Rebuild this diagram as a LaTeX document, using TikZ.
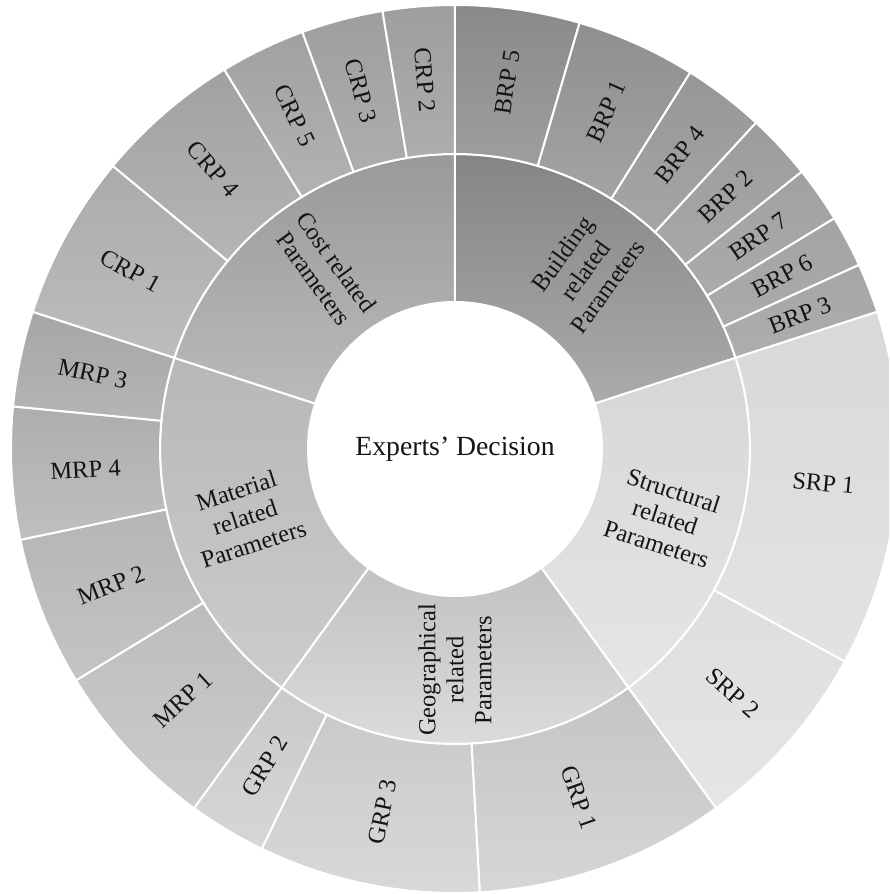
\documentclass[tikz,border=0pt]{standalone}
\usepackage{fontspec}
\setmainfont{Liberation Serif}
% annular sector: #1 start angle, #2 end angle, #3 inner radius, #4 outer radius,
% #5 colour at the top, #6 colour at the bottom
\newcommand{\ringpart}[6]{%
  \shadedraw[part, top color=#5, bottom color=#6]
    (#1:#3) arc[start angle=#1, end angle=#2, radius=#3]
    -- (#2:#4) arc[start angle=#2, end angle=#1, radius=#4] -- cycle;}
\begin{document}
\begin{tikzpicture}[
  part/.style={draw=white, line width=2pt, line join=miter},
  lbl/.style={font=\fontsize{24.5}{28}\selectfont, text=black!92, inner sep=0pt},
  grp/.style={lbl, align=center},
  hub/.style={font=\fontsize{27.7}{30}\selectfont, text=black!92, inner sep=0pt},
]
\clip (-455pt,-445pt) rectangle (434pt,449pt);
\fill[white] (-455pt,-445pt) rectangle (434pt,449pt);

% ---- middle ring: parameter groups ----
\ringpart{90}{18}{147pt}{295pt}{black!48}{black!33}
\ringpart{18}{-54}{147pt}{295pt}{black!16}{black!10}
\ringpart{-54}{-126}{147pt}{295pt}{black!24}{black!13}
\ringpart{234}{162}{147pt}{295pt}{black!28}{black!20}
\ringpart{162}{90}{147pt}{295pt}{black!40}{black!27}

% ---- outer ring: building related ----
\ringpart{90}{73.7}{295pt}{444pt}{black!46}{black!38}
\ringpart{73.7}{58}{295pt}{444pt}{black!44}{black!36}
\ringpart{58}{47.3}{295pt}{444pt}{black!41}{black!35}
\ringpart{47.3}{38.65}{295pt}{444pt}{black!39}{black!34}
\ringpart{38.65}{31.3}{295pt}{444pt}{black!37}{black!33}
\ringpart{31.3}{24.5}{295pt}{444pt}{black!36}{black!33}
\ringpart{24.5}{18}{295pt}{444pt}{black!35}{black!32}
% structural related
\ringpart{18}{-28.6}{295pt}{444pt}{black!15}{black!11}
\ringpart{-28.6}{-54}{295pt}{444pt}{black!13}{black!10}
% geographical related
\ringpart{-54}{-86.8}{295pt}{444pt}{black!23}{black!16}
\ringpart{-86.8}{-115.8}{295pt}{444pt}{black!21}{black!15}
\ringpart{-115.8}{-126}{295pt}{444pt}{black!21}{black!16}
% material related
\ringpart{234}{211.4}{295pt}{444pt}{black!26}{black!20}
\ringpart{211.4}{191.8}{295pt}{444pt}{black!29}{black!23}
\ringpart{191.8}{174.5}{295pt}{444pt}{black!32}{black!25}
\ringpart{174.5}{162}{295pt}{444pt}{black!35}{black!29}
% cost related
\ringpart{162}{140.4}{295pt}{444pt}{black!33}{black!26}
\ringpart{140.4}{121.3}{295pt}{444pt}{black!37}{black!29}
\ringpart{121.3}{110.1}{295pt}{444pt}{black!37}{black!30}
\ringpart{110.1}{99.4}{295pt}{444pt}{black!38}{black!32}
\ringpart{99.4}{90}{295pt}{444pt}{black!38}{black!32}

% ---- centre ----
\node[hub] (hub) at (0pt,0pt) {Experts’ Decision};

% ---- group labels ----
\node[grp, rotate=54]  (brp) at (54:221pt)  {Building\\related\\Parameters};
\node[grp, rotate=-18] (srp) at (-18:221pt) {Structural\\related\\Parameters};
\node[grp, rotate=90]  (grp) at (-90:221pt) {Geographical\\related\\Parameters};
\node[grp, rotate=18]  (mrp) at (198:221pt) {Material\\related\\Parameters};
\node[grp, rotate=-54] (crp) at (126:221pt) {Cost related\\Parameters};

% ---- parameter labels ----
\node[lbl, rotate=81.85] (brp5) at (81.85:370pt) {BRP 5};
\node[lbl, rotate=65.85] (brp1) at (65.85:370pt) {BRP 1};
\node[lbl, rotate=52.65] (brp4) at (52.65:370pt) {BRP 4};
\node[lbl, rotate=42.98] (brp2) at (42.98:370pt) {BRP 2};
\node[lbl, rotate=34.98] (brp7) at (34.98:370pt) {BRP 7};
\node[lbl, rotate=27.9]  (brp6) at (27.9:370pt)  {BRP 6};
\node[lbl, rotate=21.25] (brp3) at (21.25:370pt) {BRP 3};
\node[lbl, rotate=-5.3]  (srp1) at (-5.3:370pt)  {SRP 1};
\node[lbl, rotate=-41.3] (srp2) at (-41.3:370pt) {SRP 2};
\node[lbl, rotate=-70.4] (grp1) at (-70.4:370pt) {GRP 1};
\node[lbl, rotate=78.7]  (grp3) at (-101.3:370pt) {GRP 3};
\node[lbl, rotate=59.1]  (grp2) at (-120.9:370pt) {GRP 2};
\node[lbl, rotate=42.7]  (mrp1) at (222.7:370pt) {MRP 1};
\node[lbl, rotate=21.6]  (mrp2) at (201.6:370pt) {MRP 2};
\node[lbl, rotate=3.15]  (mrp4) at (183.15:370pt) {MRP 4};
\node[lbl, rotate=-11.75] (mrp3) at (168.25:370pt) {MRP 3};
\node[lbl, rotate=-28.8] (crp1) at (151.2:370pt) {CRP 1};
\node[lbl, rotate=-49.15] (crp4) at (130.85:370pt) {CRP 4};
\node[lbl, rotate=-64.3] (crp5) at (115.7:370pt) {CRP 5};
\node[lbl, rotate=-75.25] (crp3) at (104.75:370pt) {CRP 3};
\node[lbl, rotate=-85.3] (crp2) at (94.7:370pt) {CRP 2};
\end{tikzpicture}
\end{document}
